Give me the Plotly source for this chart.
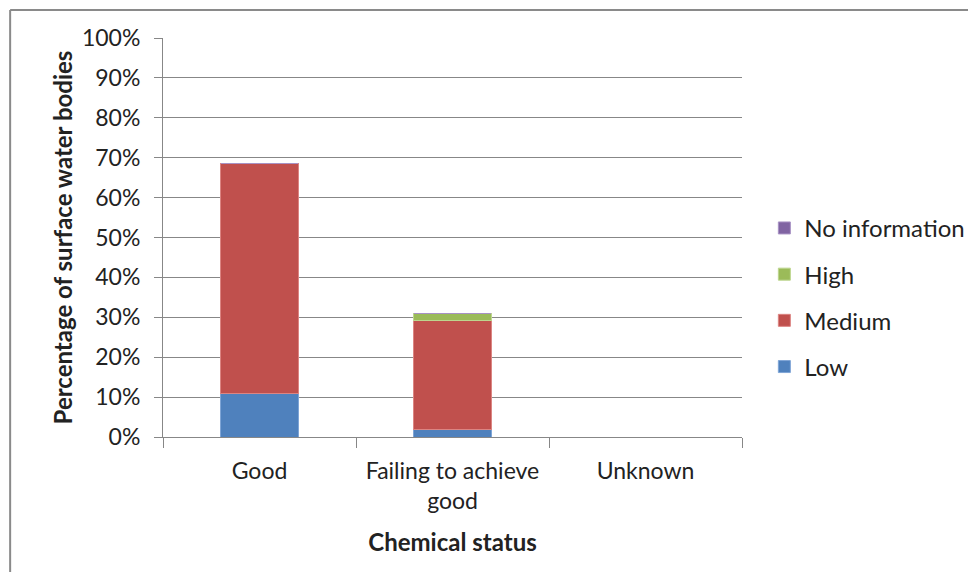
import plotly.graph_objects as go

categories = ["Good", "Failing to achieve<br>good", "Unknown"]
low = [10.8, 2.0, 0]
medium = [57.7, 27.1, 0]
high = [0, 1.75, 0]
no_information = [0, 0, 0]

# name, values, fill, edge, legend rank (legend lists top of the stack first)
series = [
    ("Low", low, "#4F81BD", "#7FA5D6", 4),
    ("Medium", medium, "#C0504D", "#DC8582", 3),
    ("High", high, "#9BBB59", "#BDD68E", 2),
    ("No information", no_information, "#8064A2", "#A892C4", 1),
]

font = "Lato"
grid = "#878787"

fig = go.Figure()
for name, vals, col, edge, rank in series:
    fig.add_trace(
        go.Bar(
            x=categories,
            y=vals,
            name=name,
            marker_color=col,
            marker_line_color=edge,
            marker_line_width=1,
            legendgroup=name,
            legendrank=rank,
        )
    )

# page body has an 8px margin, so the figure is offset by it
fig.update_layout(
    barmode="stack",
    bargap=0.6,
    width=968,
    height=564,
    margin=dict(l=155, r=234, t=30, b=135, autoexpand=False),
    plot_bgcolor="white",
    paper_bgcolor="white",
    font=dict(family=font, size=23, color="#222"),
    legend=dict(
        x=1.0386,
        y=0.35,
        xanchor="left",
        yanchor="middle",
        traceorder="grouped",
        tracegroupgap=12,
        itemwidth=30,
        font=dict(size=24),
    ),
    xaxis=dict(
        type="category",
        tickson="boundaries",
        ticks="outside",
        ticklen=10,
        tickcolor=grid,
        showline=True,
        linecolor=grid,
        ticklabelstandoff=13,
        title=dict(text="<b>Chemical status</b>", standoff=21, font=dict(size=24)),
    ),
    yaxis=dict(
        range=[0, 100],
        dtick=10,
        ticksuffix="%",
        showgrid=True,
        gridcolor=grid,
        gridwidth=1,
        showline=True,
        linecolor=grid,
        ticks="outside",
        ticklen=8,
        tickcolor=grid,
        ticklabelstandoff=9,
        zeroline=False,
        title=dict(text="<b>Percentage of surface water bodies</b>", standoff=2, font=dict(size=24)),
    ),
    shapes=[
        dict(type="line", xref="paper", yref="paper", x0=-0.264, x1=2, y0=1.07, y1=1.07,
             line=dict(color="#8a8a8a", width=2)),
        dict(type="line", xref="paper", yref="paper", x0=-0.264, x1=-0.264, y0=1.07, y1=-1,
             line=dict(color="#8a8a8a", width=2)),
    ],
)

fig.write_html("out.html")
